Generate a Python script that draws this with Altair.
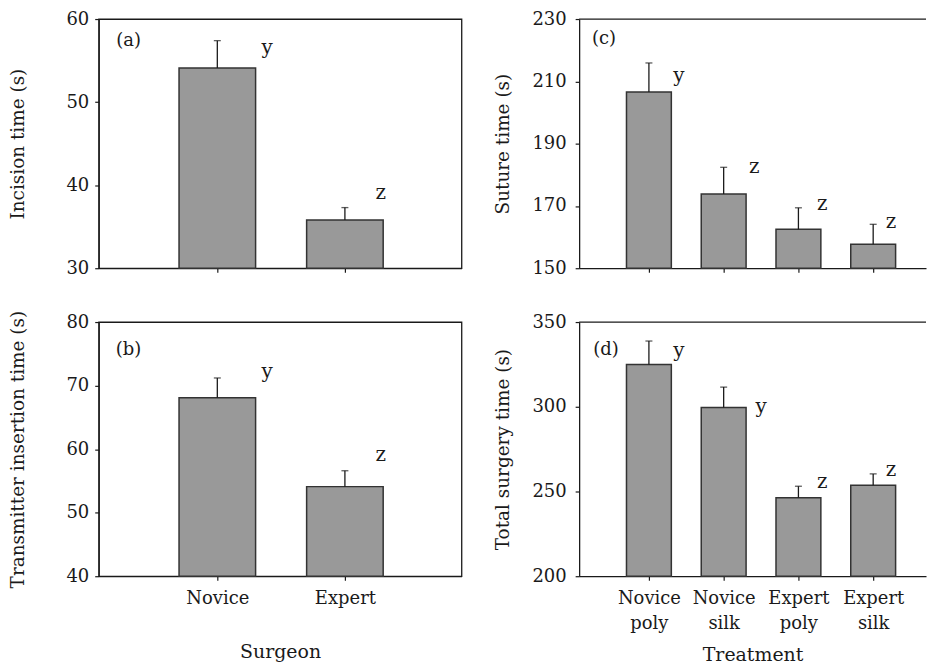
import json
import altair as alt
import pandas as pd

# ---------------- data ----------------
surgeon = ["Novice", "Expert"]
incision_mean = [54.1, 35.8]
incision_se = [3.3, 1.5]
incision_letters = ["y", "z"]
incision_letter_y = [56.5, 39.0]
incision_letter_dx = [0.39, 0.28]

insertion_mean = [68.1, 54.1]
insertion_se = [3.1, 2.5]
insertion_letters = ["y", "z"]
insertion_letter_y = [72.2, 59.1]
insertion_letter_dx = [0.39, 0.28]

treatment = ["Novice poly", "Novice silk", "Expert poly", "Expert silk"]
suture_mean = [206.6, 173.8, 162.5, 157.7]
suture_se = [9.3, 8.6, 6.9, 6.4]
suture_letters = ["y", "z", "z", "z"]
suture_letter_y = [211.8, 182.4, 170.5, 164.8]
suture_letter_dx = [0.40, 0.41, 0.32, 0.24]

total_mean = [324.9, 299.6, 246.3, 253.7]
total_se = [13.9, 12.0, 6.8, 6.7]
total_letters = ["y", "y", "z", "z"]
total_letter_y = [333.0, 299.8, 255.5, 262.4]
total_letter_dx = [0.40, 0.50, 0.32, 0.24]

FONT = "DejaVu Serif"
INK = "#1a1a1a"


def panel(cats, means, ses, letters, letter_y, letter_dx, ytitle, ydom, yticks,
          tag, tag_xy, xdom, width, height, box, show_xlabels, xtitle,
          ytitle_x, ylabel_pad, xtitle_y, two_line):
    n = len(cats)
    df = pd.DataFrame({
        "pos": list(range(1, n + 1)),
        "cat": cats,
        "mean": means,
        "se": ses,
        "letter": letters,
        "ly": letter_y,
        "ldx": letter_dx,
    })
    if two_line:
        lab = [c.split(" ") for c in cats]
    else:
        lab = cats
    label_expr = json.dumps(lab) + "[datum.value - 1]"

    xaxis = alt.Axis(values=list(range(1, n + 1)), labels=show_xlabels,
                     labelExpr=label_expr, grid=False, tickSize=4,
                     labelPadding=9, labelLineHeight=25,
                     title=xtitle if show_xlabels else None,
                     titleY=xtitle_y, titleBaseline="middle", titleFontSize=19)
    xscale = alt.Scale(domain=xdom, nice=False, zero=False)
    yscale = alt.Scale(domain=ydom, nice=False, zero=False)
    yaxis = alt.Axis(values=yticks, grid=False, tickSize=4, labelPadding=ylabel_pad,
                     title=ytitle, titleX=ytitle_x, titleBaseline="middle")

    base = alt.Chart(df).transform_calculate(
        x1="datum.pos - 0.3", x2="datum.pos + 0.3",
        top="datum.mean + datum.se", lx="datum.pos + datum.ldx")

    bars = base.mark_bar(fill="#999999", stroke="#333333", strokeWidth=1.5).encode(
        x=alt.X("x1:Q", scale=xscale, axis=xaxis),
        x2="x2:Q",
        y=alt.Y("mean:Q", scale=yscale, axis=yaxis),
        y2=alt.datum(ydom[0]),
    )
    err = base.mark_rule(color=INK, strokeWidth=1.3).encode(
        x="pos:Q", y="mean:Q", y2="top:Q")
    cap = base.mark_tick(orient="horizontal", color=INK, size=7, thickness=1.3).encode(
        x="pos:Q", y="top:Q")
    txt = base.mark_text(font=FONT, fontSize=20, color=INK, align="center",
                         baseline="middle").encode(
        x="lx:Q", y="ly:Q", text="letter:N")
    tagm = alt.Chart(pd.DataFrame({"t": [tag]})).mark_text(
        font=FONT, fontSize=18, color=INK, align="center", baseline="middle").encode(
        x=alt.value(tag_xy[0]), y=alt.value(tag_xy[1]), text="t:N")

    layers = [bars, err, cap, txt, tagm]
    if not box:
        topline = alt.Chart(pd.DataFrame({"a": [0]})).mark_rule(
            color=INK, strokeWidth=1.3).encode(
            x=alt.value(0), x2=alt.value(width), y=alt.value(0))
        layers.append(topline)
    ch = alt.layer(*layers).properties(width=width, height=height)
    if box:
        ch = ch.properties(view=alt.ViewBackground(stroke=INK, strokeWidth=1.3))
    else:
        ch = ch.properties(view=alt.ViewBackground(stroke="transparent"))
    return ch


LW, RW = 364, 348
TH, BH = 250, 255
ldom = [0.0703, 0.0703 + LW / 128.0]
rdom = [1 - 70 / 75.0, 1 + (RW - 70) / 75.0]

a = panel(surgeon, incision_mean, incision_se, incision_letters, incision_letter_y,
          incision_letter_dx, "Incision time (s)", [30, 60], [30, 40, 50, 60],
          "(a)", (30, 22), ldom, LW, TH, True, False, "", -81, 6, 76, False)
c = panel(treatment, suture_mean, suture_se, suture_letters, suture_letter_y,
          suture_letter_dx, "Suture time (s)", [150, 230], [150, 170, 190, 210, 230],
          "(c)", (25, 20), rdom, RW, TH, False, False, "", -77, 9, 80, True)
b = panel(surgeon, insertion_mean, insertion_se, insertion_letters, insertion_letter_y,
          insertion_letter_dx, "Transmitter insertion time (s)", [40, 80],
          [40, 50, 60, 70, 80], "(b)", (30, 28), ldom, LW, BH, True, True,
          "Surgeon", -81, 6, 76, False)
d = panel(treatment, total_mean, total_se, total_letters, total_letter_y,
          total_letter_dx, "Total surgery time (s)", [200, 350],
          [200, 250, 300, 350], "(d)", (27, 28), rdom, RW, BH, False, True,
          "Treatment", -77, 9, 79, True)

chart = alt.concat(a, c, b, d, columns=2, spacing={"row": 54, "column": 118},
                   bounds="flush").properties(
    padding={"left": 0, "top": 0, "right": 0, "bottom": 0},
    background="white",
).configure_axis(
    domainColor=INK, domainWidth=1.3, tickColor=INK, tickWidth=1.2,
    labelFont=FONT, labelFontSize=18, labelColor=INK,
    titleFont=FONT, titleFontSize=18.5, titleFontWeight="normal", titleColor=INK,
)

chart.save("out.html", embed_options={"renderer": "svg", "actions": False})
